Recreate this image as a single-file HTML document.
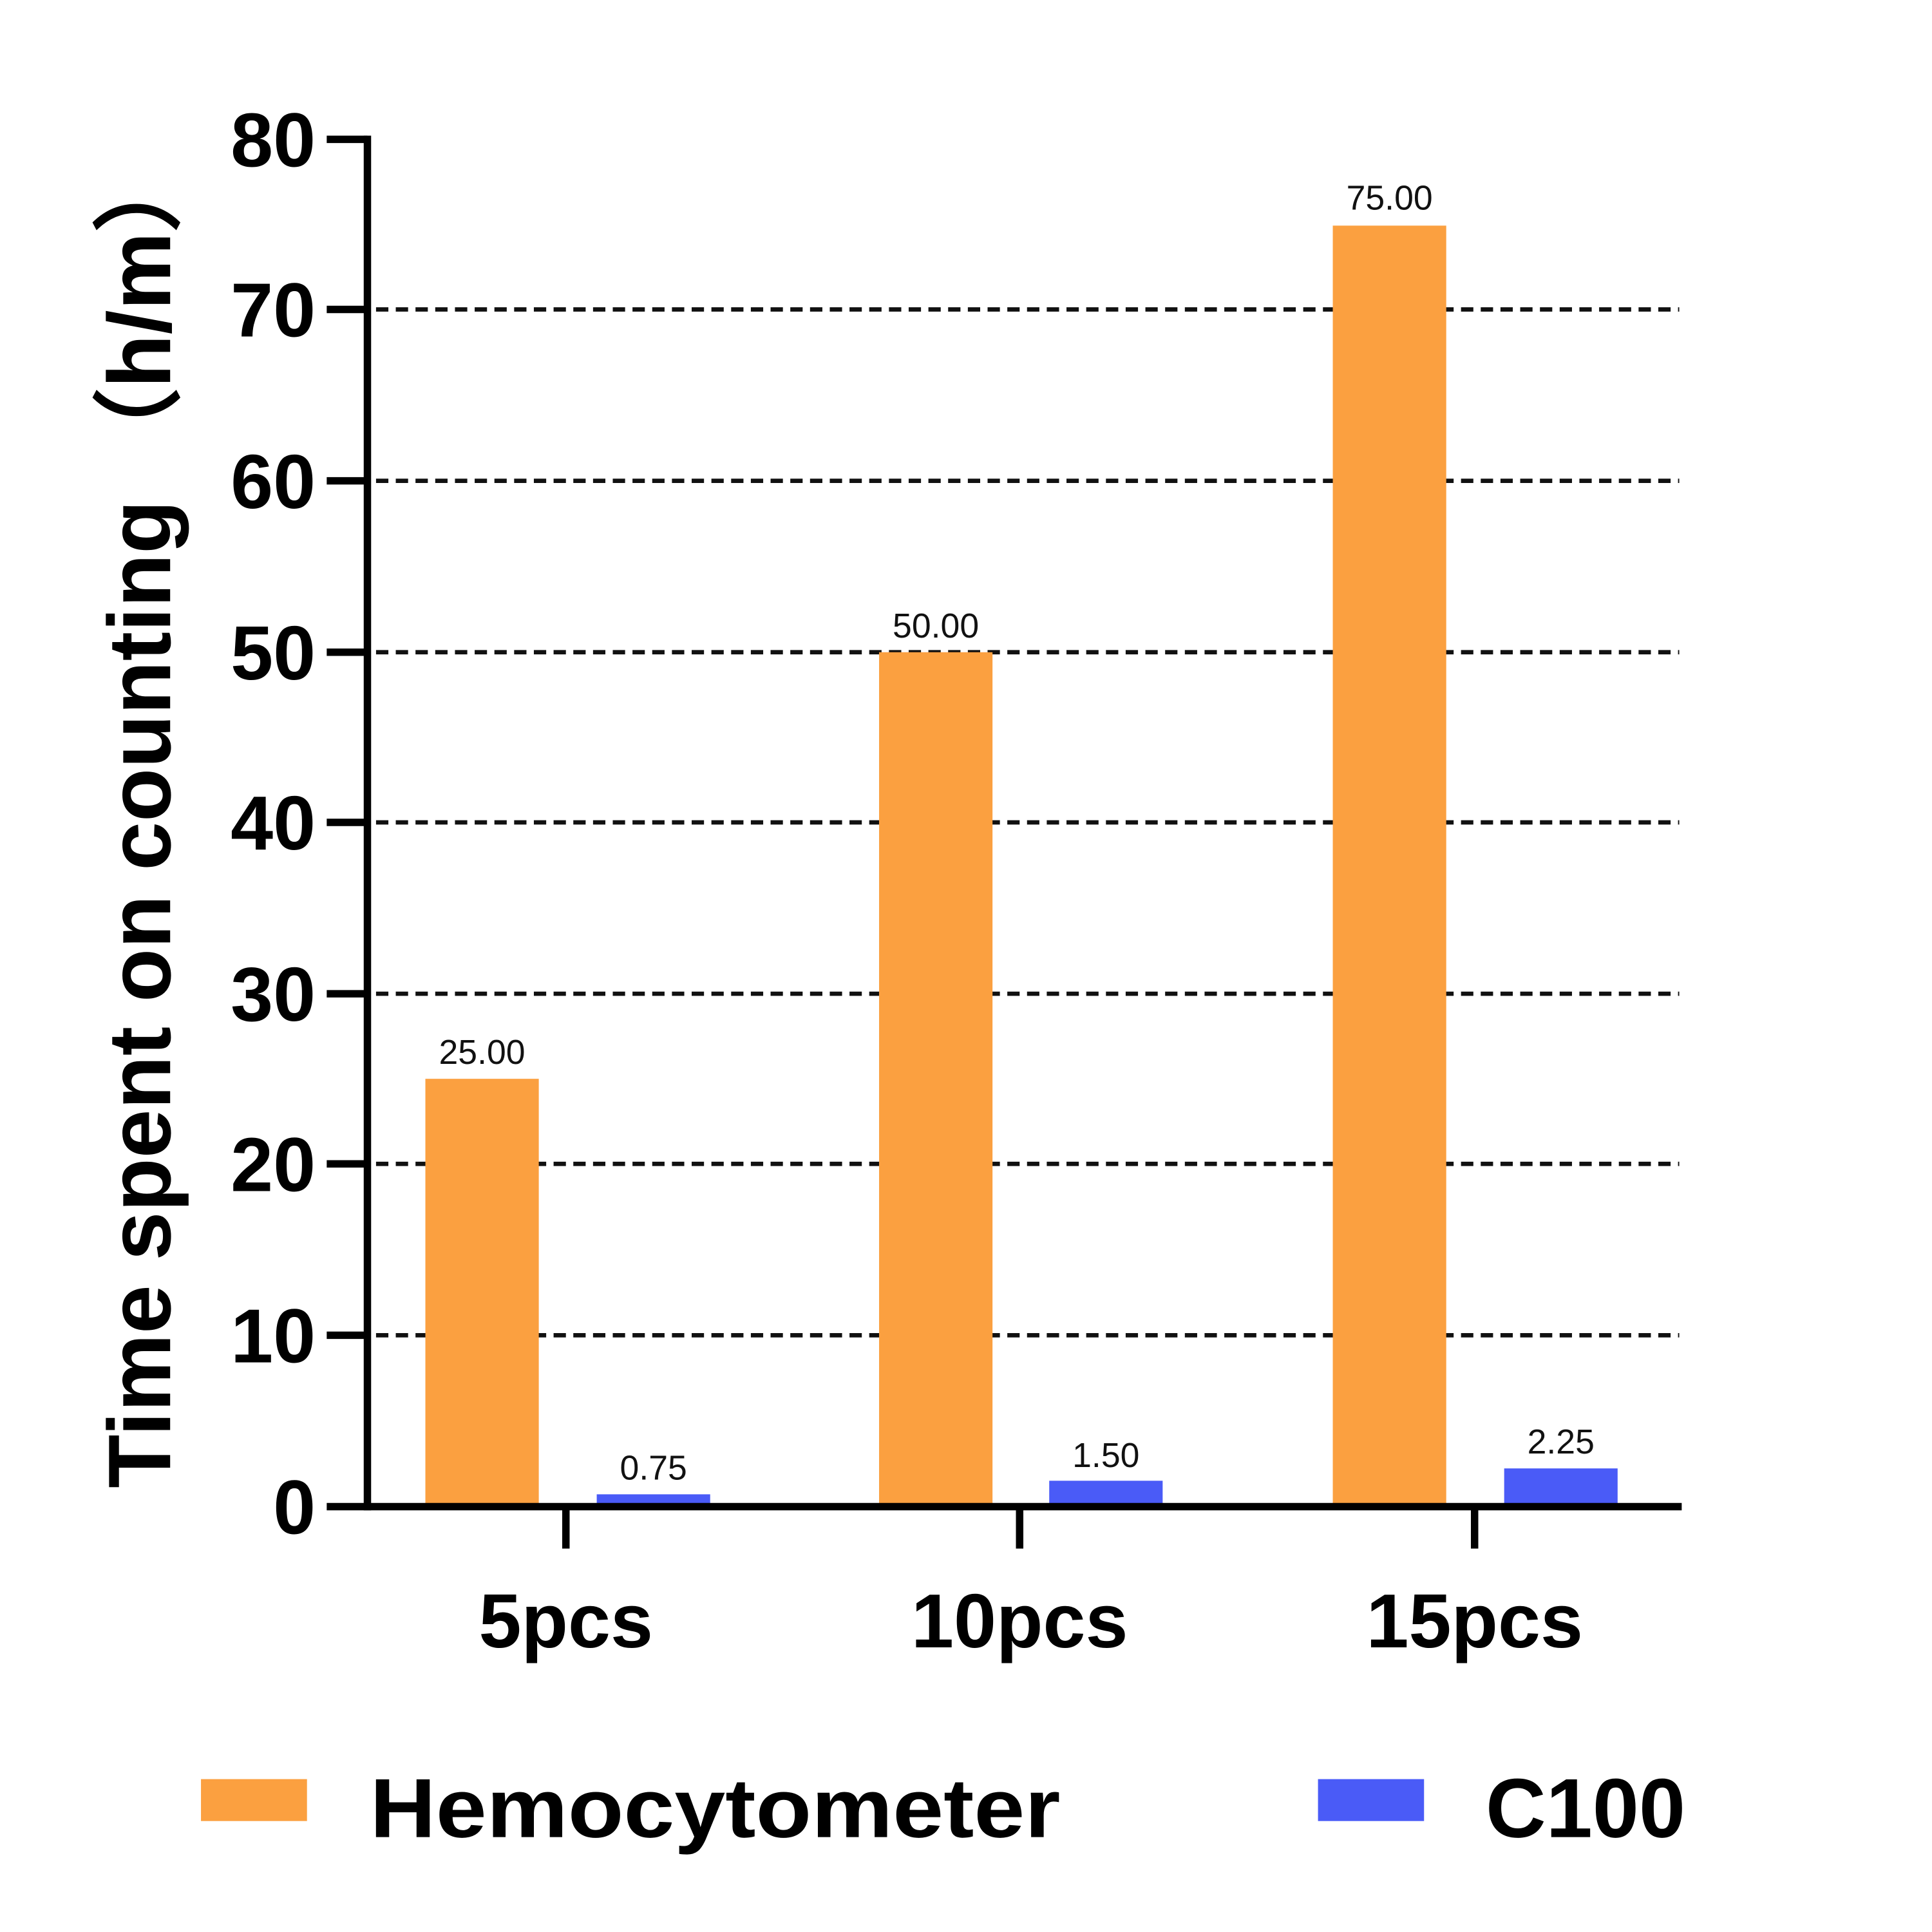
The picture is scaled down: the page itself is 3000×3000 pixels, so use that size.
<!DOCTYPE html>
<html><head><style>html,body{margin:0;padding:0;background:#fff}svg{display:block}</style></head>
<body>
<svg width="3000" height="3000" viewBox="0 0 1567 1567" xmlns="http://www.w3.org/2000/svg" font-family="Liberation Sans, DejaVu Sans, sans-serif">
<g stroke="#111" stroke-width="3.5" stroke-dasharray="10,6">
<line x1="305" y1="1083" x2="1362" y2="1083"/>
<line x1="305" y1="944" x2="1362" y2="944"/>
<line x1="305" y1="806" x2="1362" y2="806"/>
<line x1="305" y1="667" x2="1362" y2="667"/>
<line x1="305" y1="529" x2="1362" y2="529"/>
<line x1="305" y1="390" x2="1362" y2="390"/>
<line x1="305" y1="251" x2="1362" y2="251"/>
</g>
<g fill="#FBA040">
<rect x="345" y="875" width="92" height="347"/>
<rect x="713" y="529" width="92" height="693"/>
<rect x="1081" y="183" width="92" height="1039"/>
<rect x="163" y="1443" width="86" height="34"/>
</g>
<g fill="#4A5BF7">
<rect x="484" y="1212" width="92" height="10"/>
<rect x="851" y="1201" width="92" height="21"/>
<rect x="1220" y="1191" width="92" height="31"/>
<rect x="1069" y="1443" width="86" height="34"/>
</g>
<g stroke="#000" stroke-width="6" fill="none">
<line x1="298" y1="110" x2="298" y2="1225"/>
<line x1="265" y1="1222" x2="1364" y2="1222"/>
<line x1="265" y1="113" x2="298" y2="113"/>
<line x1="265" y1="251" x2="298" y2="251"/>
<line x1="265" y1="390" x2="298" y2="390"/>
<line x1="265" y1="529" x2="298" y2="529"/>
<line x1="265" y1="667" x2="298" y2="667"/>
<line x1="265" y1="806" x2="298" y2="806"/>
<line x1="265" y1="944" x2="298" y2="944"/>
<line x1="265" y1="1083" x2="298" y2="1083"/>
<line x1="459" y1="1222" x2="459" y2="1256"/>
<line x1="827" y1="1222" x2="827" y2="1256"/>
<line x1="1196" y1="1222" x2="1196" y2="1256"/>
</g>
<g font-size="62" font-weight="bold" text-anchor="end" fill="#000">
<text x="256" y="1244">0</text>
<text x="256" y="1105">10</text>
<text x="256" y="966">20</text>
<text x="256" y="828">30</text>
<text x="256" y="689">40</text>
<text x="256" y="551">50</text>
<text x="256" y="412">60</text>
<text x="256" y="273">70</text>
<text x="256" y="135">80</text>
</g>
<g font-size="28" text-anchor="middle" fill="#111">
<text x="391" y="863">25.00</text>
<text x="759" y="517">50.00</text>
<text x="1127" y="170">75.00</text>
<text x="530" y="1200">0.75</text>
<text x="897" y="1190">1.50</text>
<text x="1266" y="1179">2.25</text>
</g>
<g font-size="62" font-weight="bold" text-anchor="middle" fill="#000">
<text x="459" y="1336">5pcs</text>
<text x="827" y="1336">10pcs</text>
<text x="1196" y="1336">15pcs</text>
</g>
<text transform="translate(138,662) rotate(-90)" font-size="72" font-weight="bold" text-anchor="middle" fill="#000" textLength="1090" lengthAdjust="spacingAndGlyphs">Time spent on counting （h/m）</text>
<text x="300" y="1490" font-size="68" font-weight="bold" fill="#000" textLength="560" lengthAdjust="spacingAndGlyphs">Hemocytometer</text>
<text x="1205" y="1490" font-size="68" font-weight="bold" fill="#000" textLength="162" lengthAdjust="spacingAndGlyphs">C100</text>
</svg>
</body></html>
